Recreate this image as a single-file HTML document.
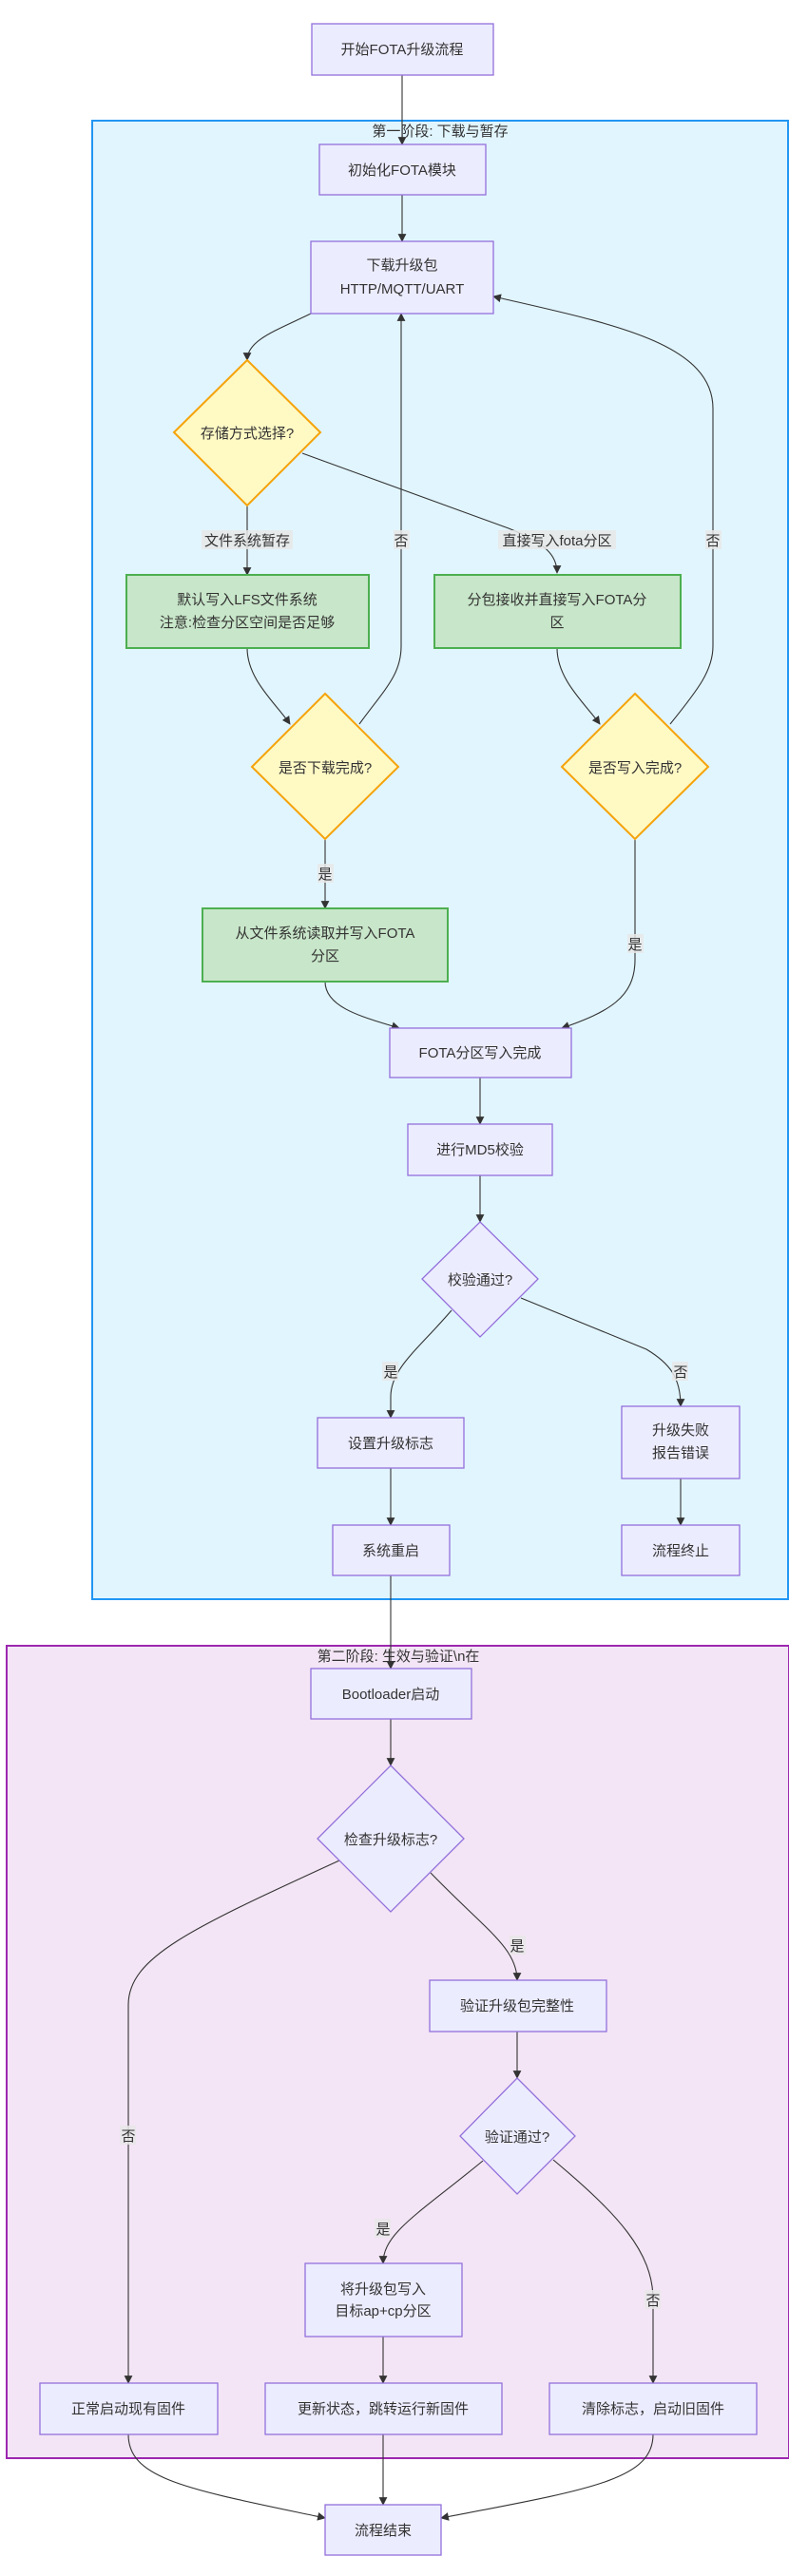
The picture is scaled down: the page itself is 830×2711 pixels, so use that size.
<!DOCTYPE html>
<html><head><meta charset="utf-8"><style>
html,body{margin:0;padding:0;background:#fff;}
svg{display:block;}
text{font-family:"Liberation Sans","Noto Sans CJK SC",sans-serif;font-size:15px;fill:#333;}
.n{fill:#ECECFF;stroke:#9370DB;stroke-width:1.3;}
.g{fill:#c8e6c9;stroke:#4caf50;stroke-width:2;}
.y{fill:#fff9c4;stroke:#f5a30a;stroke-width:2;}
.e{fill:none;stroke:#333;stroke-width:1.1;}
.lb{fill:#e8e8e8;opacity:0.85;}
</style></head><body>
<svg width="830" height="2711" viewBox="0 0 830 2711" xmlns="http://www.w3.org/2000/svg">
<defs><marker id="a" viewBox="0 0 10 10" refX="9" refY="5" markerWidth="8" markerHeight="8" orient="auto-start-reverse"><path d="M0,0 L10,5 L0,10 z" fill="#333"/></marker></defs>
<!-- clusters -->
<rect x="97" y="127" width="732" height="1556" fill="#e1f5fe" stroke="#2196f3" stroke-width="2"/>
<rect x="7" y="1732" width="823" height="855" fill="#f3e5f5" stroke="#9c27b0" stroke-width="2"/>
<text x="463" y="143" text-anchor="middle">第一阶段: 下载与暂存</text>
<text x="419" y="1748" text-anchor="middle">第二阶段: 生效与验证\n在</text>

<!-- edges -->
<g class="e" marker-end="url(#a)">
<path d="M423,79 L423,152"/>
<path d="M423,205 L423,254"/>
<path d="M327,330 C290,348 260,358 260,379"/>
<path d="M260,532 L260,605"/>
<path d="M318,477 L535,556 C575,572 586,585 586,603"/>
<path d="M260,682 C260,715 290,740 305,762"/>
<path d="M586,682 C586,715 615,740 631,762"/>
<path d="M378,762 C405,725 422,710 422,680 L422,330"/>
<path d="M705,762 C735,725 750,705 750,680 L750,430 C750,360 640,340 519,312"/>
<path d="M342,883 L342,956"/>
<path d="M342,1033 C342,1060 380,1070 420,1082"/>
<path d="M668,883 L668,1010 C668,1050 640,1065 591,1082"/>
<path d="M505,1134 L505,1183"/>
<path d="M505,1237 L505,1286"/>
<path d="M475,1379 C440,1420 411,1440 411,1470 L411,1492"/>
<path d="M548,1366 L680,1420 C705,1435 716,1450 716,1480"/>
<path d="M411,1545 L411,1605"/>
<path d="M716,1556 L716,1605"/>
<path d="M411,1658 L411,1756"/>
<path d="M411,1809 L411,1858"/>
<path d="M357,1958 C200,2030 135,2060 135,2110 L135,2508"/>
<path d="M453,1971 C510,2030 544,2050 544,2084"/>
<path d="M544,2138 L544,2187"/>
<path d="M508,2274 C440,2330 403,2350 403,2382"/>
<path d="M582,2273 C650,2330 687,2370 687,2420 L687,2508"/>
<path d="M403,2459 L403,2508"/>
<path d="M135,2562 C135,2610 200,2620 342,2650"/>
<path d="M403,2562 L403,2636"/>
<path d="M687,2562 C687,2610 620,2620 464,2650"/>
</g>

<!-- edge labels -->
<rect class="lb" x="212" y="558" width="96" height="20"/><text x="260" y="574" text-anchor="middle">文件系统暂存</text>
<rect class="lb" x="414" y="558" width="17" height="20"/><text x="422" y="574" text-anchor="middle">否</text>
<rect class="lb" x="524" y="558" width="124" height="20"/><text x="586" y="574" text-anchor="middle">直接写入fota分区</text>
<rect class="lb" x="742" y="558" width="17" height="20"/><text x="750" y="574" text-anchor="middle">否</text>
<rect class="lb" x="334" y="909" width="17" height="20"/><text x="342" y="925" text-anchor="middle">是</text>
<rect class="lb" x="660" y="983" width="17" height="20"/><text x="668" y="999" text-anchor="middle">是</text>
<rect class="lb" x="402" y="1433" width="17" height="20"/><text x="411" y="1449" text-anchor="middle">是</text>
<rect class="lb" x="707" y="1433" width="17" height="20"/><text x="716" y="1449" text-anchor="middle">否</text>
<rect class="lb" x="536" y="2037" width="17" height="20"/><text x="544" y="2053" text-anchor="middle">是</text>
<rect class="lb" x="126" y="2237" width="17" height="20"/><text x="135" y="2253" text-anchor="middle">否</text>
<rect class="lb" x="394" y="2335" width="17" height="20"/><text x="403" y="2351" text-anchor="middle">是</text>
<rect class="lb" x="678" y="2410" width="17" height="20"/><text x="687" y="2426" text-anchor="middle">否</text>

<!-- nodes -->
<rect class="n" x="328" y="25" width="191" height="54"/><text x="423" y="57" text-anchor="middle">开始FOTA升级流程</text>
<rect class="n" x="336" y="152" width="175" height="53"/><text x="423" y="184" text-anchor="middle">初始化FOTA模块</text>
<rect class="n" x="327" y="254" width="192" height="76"/><text x="423" y="284" text-anchor="middle">下载升级包</text><text x="423" y="309" text-anchor="middle">HTTP/MQTT/UART</text>
<polygon class="y" points="260,379 337,455 260,532 183,455"/><text x="260" y="461" text-anchor="middle">存储方式选择?</text>
<rect class="g" x="133" y="605" width="255" height="77"/><text x="260" y="636" text-anchor="middle">默认写入LFS文件系统</text><text x="260" y="660" text-anchor="middle">注意:检查分区空间是否足够</text>
<rect class="g" x="457" y="605" width="259" height="77"/><text x="586" y="636" text-anchor="middle">分包接收并直接写入FOTA分</text><text x="586" y="660" text-anchor="middle">区</text>
<polygon class="y" points="342,730 419,807 342,883 265,807"/><text x="342" y="813" text-anchor="middle">是否下载完成?</text>
<polygon class="y" points="668,730 745,807 668,883 591,807"/><text x="668" y="813" text-anchor="middle">是否写入完成?</text>
<rect class="g" x="213" y="956" width="258" height="77"/><text x="342" y="987" text-anchor="middle">从文件系统读取并写入FOTA</text><text x="342" y="1011" text-anchor="middle">分区</text>
<rect class="n" x="410" y="1082" width="191" height="52"/><text x="505" y="1113" text-anchor="middle">FOTA分区写入完成</text>
<rect class="n" x="429" y="1183" width="152" height="54"/><text x="505" y="1215" text-anchor="middle">进行MD5校验</text>
<polygon class="n" points="505,1286 566,1346 505,1407 444,1346"/><text x="505" y="1352" text-anchor="middle">校验通过?</text>
<rect class="n" x="334" y="1492" width="154" height="53"/><text x="411" y="1524" text-anchor="middle">设置升级标志</text>
<rect class="n" x="654" y="1480" width="124" height="76"/><text x="716" y="1510" text-anchor="middle">升级失败</text><text x="716" y="1534" text-anchor="middle">报告错误</text>
<rect class="n" x="350" y="1605" width="123" height="53"/><text x="411" y="1637" text-anchor="middle">系统重启</text>
<rect class="n" x="654" y="1605" width="124" height="53"/><text x="716" y="1637" text-anchor="middle">流程终止</text>
<rect class="n" x="327" y="1756" width="169" height="53"/><text x="411" y="1788" text-anchor="middle">Bootloader启动</text>
<polygon class="n" points="411,1858 488,1935 411,2012 334,1935"/><text x="411" y="1941" text-anchor="middle">检查升级标志?</text>
<rect class="n" x="452" y="2084" width="186" height="54"/><text x="544" y="2116" text-anchor="middle">验证升级包完整性</text>
<polygon class="n" points="544,2187 605,2248 544,2309 484,2248"/><text x="544" y="2254" text-anchor="middle">验证通过?</text>
<rect class="n" x="321" y="2382" width="165" height="77"/><text x="403" y="2414" text-anchor="middle">将升级包写入</text><text x="403" y="2437" text-anchor="middle">目标ap+cp分区</text>
<rect class="n" x="42" y="2508" width="187" height="54"/><text x="135" y="2540" text-anchor="middle">正常启动现有固件</text>
<rect class="n" x="279" y="2508" width="249" height="54"/><text x="403" y="2540" text-anchor="middle">更新状态，跳转运行新固件</text>
<rect class="n" x="578" y="2508" width="218" height="54"/><text x="687" y="2540" text-anchor="middle">清除标志，启动旧固件</text>
<rect class="n" x="342" y="2636" width="122" height="53"/><text x="403" y="2668" text-anchor="middle">流程结束</text>
</svg>
</body></html>
